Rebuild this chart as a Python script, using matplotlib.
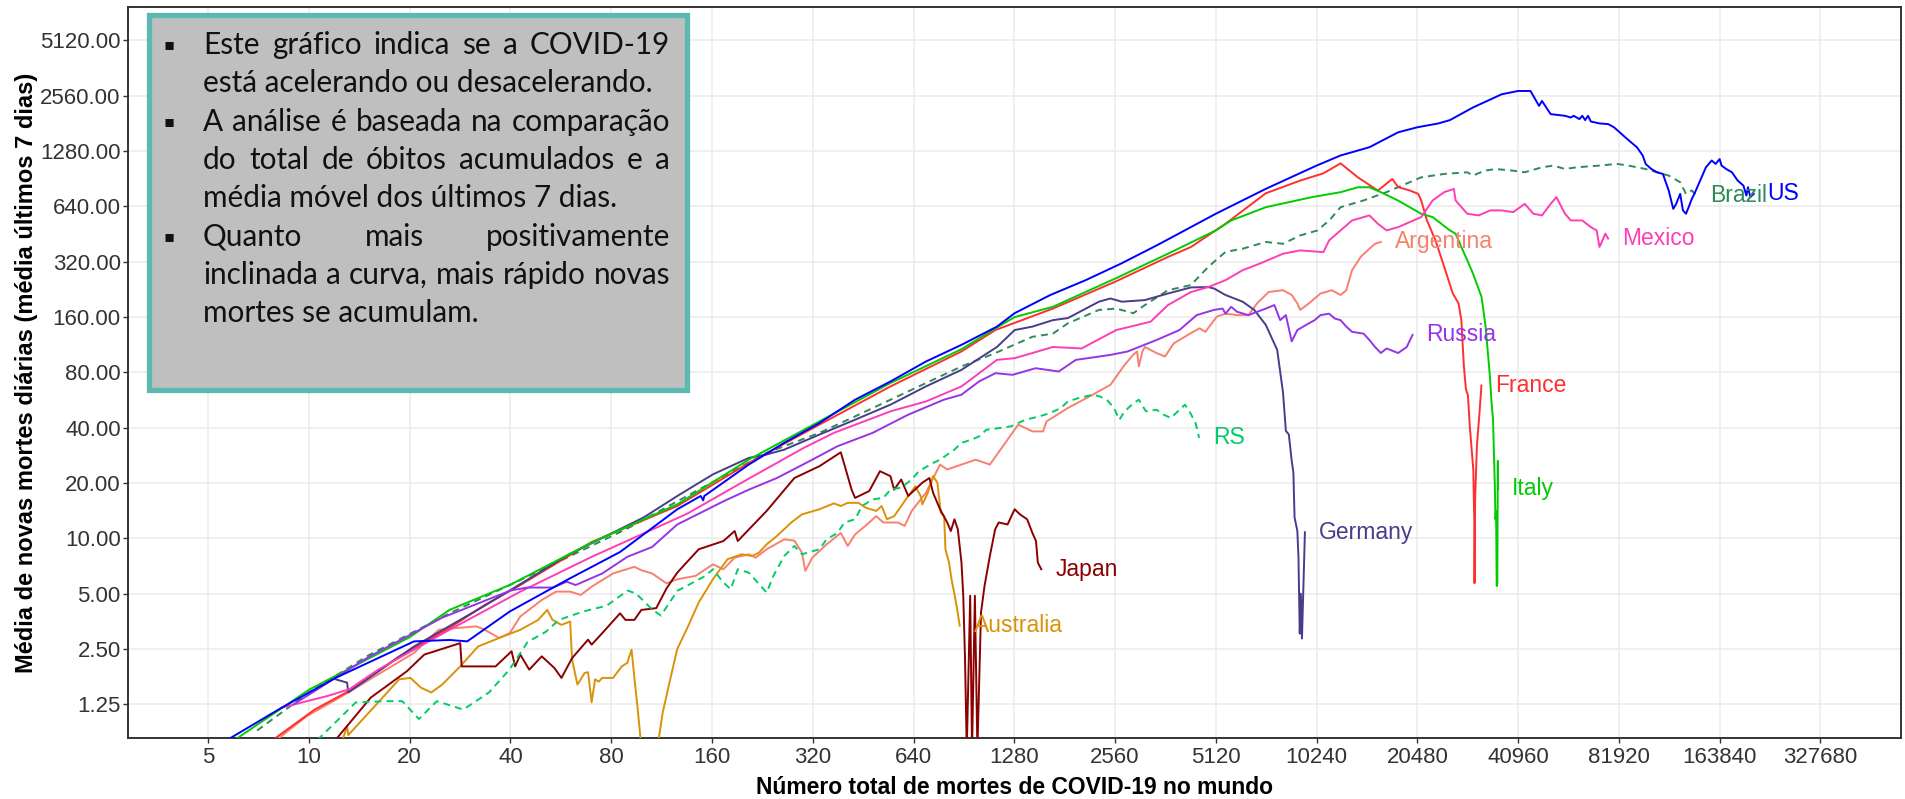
import matplotlib

matplotlib.use("Agg")
import matplotlib.pyplot as plt
from matplotlib.patches import Rectangle
from matplotlib.ticker import NullLocator

W, H = 1905, 799

x_ticks = [5, 10, 20, 40, 80, 160, 320, 640, 1280, 2560, 5120, 10240,
           20480, 40960, 81920, 163840, 327680]
y_ticks = [1.25, 2.5, 5, 10, 20, 40, 80, 160, 320, 640, 1280, 2560, 5120]

# (total deaths, 7-day average of new deaths)
argentina = [
    (8.0, 0.80), (9.87, 1.08), (12.6, 1.39), (16.1, 1.82), (20.6, 2.38), (24.4, 3.18),
    (27.6, 3.25), (31.6, 3.32), (33.5, 3.18), (37.0, 2.87), (39.8, 3.05), (42.8, 3.76),
    (49.6, 4.62), (54.7, 5.13), (60.3, 5.13), (64.9, 4.92), (69.9, 5.46), (81, 6.44),
    (93.8, 7.0), (98.4, 6.71), (106, 6.44), (117, 5.69), (126, 5.99), (143, 6.25),
    (161, 7.22), (173, 6.79), (187, 7.85), (206, 8.19), (216, 7.85), (233, 8.72),
    (263, 9.88), (282, 9.72), (297, 8.36), (304, 6.65), (319, 7.85), (352, 9.28),
    (388, 10.7), (407, 9.09), (428, 10.5), (472, 12.2), (495, 13.2), (520, 12.2),
    (574, 12.2), (602, 11.7), (632, 14.1), (697, 17.7), (768, 25.2), (807, 23.7),
    (890, 25.2), (981, 26.8), (1082, 25.2), (1193, 32.4), (1315, 41.6), (1450, 38.2),
    (1560, 38.2), (1598, 43.3), (1851, 51.2), (2195, 60.5), (2480, 68.5), (2735, 88),
    (2904, 100), (2980, 104), (3015, 86.2), (3090, 104), (3143, 110), (3403, 102),
    (3610, 97.6), (3832, 115), (4315, 131), (4580, 139), (4765, 133), (5156, 161),
    (5472, 167), (5922, 164), (6408, 164), (6800, 190), (7360, 219), (8130, 224),
    (8630, 211), (8970, 190), (9150, 175), (9714, 190), (10520, 215), (11380, 224),
    (12075, 211), (12560, 224), (13070, 288), (13870, 340), (14728, 377), (15310, 401),
    (15930, 410),
]
australia = [
    (12.6, 0.80), (13.0, 0.95), (13.1, 0.85), (16.1, 1.28), (18.6, 1.71), (20.1, 1.74),
    (21.6, 1.54), (23.2, 1.45), (25.0, 1.60), (28.3, 2.01), (32.0, 2.58), (37.0, 2.87),
    (42.8, 3.18), (48.4, 3.60), (51.5, 4.08), (53.4, 3.60), (56.8, 3.38), (60.3, 3.53),
    (61.1, 2.19), (63.4, 1.60), (66.6, 1.85), (68.2, 1.87), (69.9, 1.28), (71.6, 1.71),
    (73.4, 1.66), (75.2, 1.74), (81, 1.74), (86, 2.01), (89.3, 2.10), (92.0, 2.48),
    (93.8, 1.74), (96.0, 1.17), (97.8, 0.82), (104, 0.50), (111, 0.82), (114, 1.13),
    (120, 1.71), (126, 2.50), (136, 3.35), (146, 4.48), (161, 5.99), (178, 7.70),
    (196, 8.19), (211, 8.02), (221, 8.36), (233, 9.28), (250, 10.3), (276, 12.2),
    (297, 13.5), (335, 14.4), (370, 15.5), (388, 15.0), (407, 15.6), (438, 15.6),
    (460, 14.7), (495, 14.1), (514, 15.0), (533, 12.7), (560, 13.2), (617, 17.0),
    (648, 19.2), (672, 17.0), (680, 15.3), (706, 17.7), (732, 21.8), (754, 20.1),
    (772, 13.8), (790, 13.2), (797, 8.72), (817, 7.38), (831, 5.99), (848, 4.97),
    (864, 4.12), (879, 3.35),
]
brazil = [
    (7.0, 0.90), (10, 1.45), (15, 2.30), (26.3, 3.91), (42.8, 5.93), (89.3, 11.3),
    (150, 18.9), (233, 29.2), (335, 37.5), (428, 46.1), (546, 56.8), (697, 70),
    (890, 86.2), (1124, 102), (1450, 125), (1669, 130), (1851, 148), (2290, 175),
    (2580, 178), (2904, 168), (3143, 186), (3684, 224), (4315, 239), (4860, 300),
    (5472, 362), (6160, 377), (7222, 410), (8130, 401), (9150, 445), (10310, 474),
    (11200, 540), (12075, 634), (14150, 690), (16580, 766), (19430, 867), (21030, 922),
    (24640, 962), (28870, 982), (30030, 942), (32500, 1002), (35170, 1023), (39600, 1002),
    (42880, 982), (48270, 1045), (52250, 1068), (56540, 1023), (61230, 1045), (71700, 1068),
    (80720, 1091), (87450, 1068), (98500, 1023), (106500, 982), (115400, 942),
    (124900, 867), (130000, 749), (135300, 782), (139500, 734),
]
france = [
    (7.8, 0.80), (10.4, 1.17), (13.2, 1.48), (18.6, 2.28), (26.3, 3.25), (33.5, 4.34),
    (42.8, 5.57), (69.9, 9.55), (126, 15.0), (206, 25.7), (335, 41.6), (546, 67.1),
    (890, 104), (1124, 136), (1669, 178), (2560, 249), (3684, 340), (4315, 385),
    (5472, 515), (7222, 755), (9150, 885), (10730, 969), (12075, 1098), (13600, 922),
    (15610, 781), (17240, 903), (17943, 815), (19430, 782), (20610, 749), (21030, 690),
    (21880, 537), (23210, 418), (24640, 300), (26140, 215), (27190, 190), (27720, 154),
    (28200, 87), (28600, 65), (29000, 60), (29400, 40), (29800, 29.5), (30100, 23.5),
    (30200, 16.5), (30300, 12.7), (30350, 5.7), (30480, 16.5), (30860, 32.1),
    (31360, 46.7), (31830, 67.9),
]
germany = [
    (12.0, 1.71), (13.0, 1.64), (13.1, 1.45), (20.6, 2.58), (33.5, 4.30), (60, 8.2),
    (100, 13.0), (126, 17.0), (161, 22.3), (206, 27.4), (233, 28.6), (263, 30.4),
    (335, 36.7), (428, 44.2), (546, 53.4), (697, 67.1), (890, 82.6), (1136, 110),
    (1283, 136), (1450, 142), (1669, 154), (1851, 158), (2290, 194), (2480, 202),
    (2684, 194), (3143, 198), (3684, 215), (4315, 232), (4860, 233), (5055, 229),
    (5472, 211), (6160, 194), (6670, 175), (7222, 145), (7810, 106), (8130, 62),
    (8290, 38.4), (8460, 36.8), (8630, 26.4), (8730, 22.8), (8800, 13.0), (8970, 11.0),
    (9040, 7.9), (9120, 3.03), (9190, 5.0), (9260, 2.85), (9340, 5.0), (9450, 10.8),
]
italy = [
    (6.0, 0.80), (10, 1.50), (20, 2.90), (26.3, 4.08), (40, 5.6), (70, 9.5),
    (126, 15.3), (206, 26.8), (335, 43.3), (546, 70), (890, 107), (1124, 139),
    (1283, 160), (1669, 182), (2560, 259), (3684, 354), (5120, 474), (5693, 537),
    (7222, 634), (9910, 719), (12075, 765), (13600, 814), (14728, 814), (15930, 765),
    (17943, 689), (21030, 584), (22760, 560), (25620, 474), (26640, 455), (27720, 385),
    (28870, 326), (30030, 276), (31850, 206), (32750, 142), (33410, 93.6), (33800, 73),
    (34070, 56.8), (34470, 44.2), (34680, 29.5), (34900, 19.4), (35050, 12.7),
    (35200, 14.1), (35350, 5.5), (35500, 5.7), (35630, 26.4), (35700, 18.6),
]
japan = [
    (12.0, 0.80), (15.3, 1.36), (19.6, 1.89), (22.1, 2.33), (28.3, 2.69), (28.6, 2.01),
    (36.1, 2.01), (40.3, 2.43), (41.3, 2.01), (42.8, 2.33), (45.5, 1.93), (49.6, 2.28),
    (54.1, 1.97), (56.8, 1.74), (61.1, 2.23), (68.2, 2.81), (69.9, 2.64), (75.2, 3.05),
    (85, 3.91), (88.2, 3.60), (93.8, 3.60), (98.4, 4.08), (109, 4.17), (117, 5.34),
    (126, 6.51), (146, 8.72), (173, 9.67), (187, 10.96), (191, 9.67), (233, 14.1),
    (282, 21.3), (335, 24.7), (388, 29.4), (418, 18.4), (428, 16.6), (472, 18.1),
    (508, 23.2), (546, 21.8), (560, 18.4), (588, 20.9), (617, 17.0), (680, 20.1),
    (714, 21.3), (732, 17.7), (768, 14.4), (807, 12.2), (827, 10.96), (848, 12.7),
    (868, 11.2), (890, 7.38), (901, 4.87), (912, 2.2), (923, 0.7), (945, 4.87),
    (957, 0.7), (976, 4.87), (993, 0.7), (1018, 3.95), (1043, 5.51), (1082, 8.02),
    (1122, 11.2), (1150, 12.2), (1222, 11.9), (1283, 14.4), (1331, 13.5), (1398, 12.7),
    (1450, 10.7), (1486, 9.67), (1505, 7.38), (1541, 6.79),
]
mexico = [
    (8.3, 1.20), (11.4, 1.39), (13.2, 1.51), (16.1, 1.93), (26.3, 3.18), (42.8, 5.13),
    (69.9, 7.93), (134.7, 13.6), (200, 20.5), (300, 31), (370, 37.5), (546, 49.1),
    (697, 55.6), (890, 67.1), (1136, 93.6), (1283, 95.6), (1450, 102), (1669, 110),
    (2034, 108), (2580, 136), (3270, 151), (3684, 186), (4315, 219), (4860, 233),
    (5472, 254), (6160, 288), (6935, 313), (8130, 354), (9150, 369), (10730, 361),
    (11160, 418), (12075, 474), (13070, 537), (14728, 572), (15610, 515), (16580, 474),
    (17943, 494), (19430, 526), (21030, 560), (22760, 690), (24640, 766), (26330, 797),
    (26640, 690), (28870, 584), (31230, 572), (33800, 609), (36590, 609), (39600, 596),
    (42880, 661), (45500, 584), (48270, 572), (51230, 661), (53320, 719), (56540, 584),
    (58860, 537), (63690, 537), (67560, 494), (70300, 474), (71700, 385), (73180, 418),
    (74620, 455), (76100, 428),
]
rs = [
    (10.6, 0.80), (13.8, 1.28), (16.9, 1.30), (19, 1.30), (21.3, 1.04), (24.1, 1.30),
    (28.9, 1.17), (34.5, 1.45), (39.7, 1.93), (45, 2.73), (51, 3.10), (55.8, 3.60),
    (66, 4.0), (77.5, 4.3), (89.6, 5.2), (95, 5.0), (106, 4.1), (112.6, 3.8),
    (126, 5.18), (153, 6.25), (161, 6.79), (173, 5.75), (182, 5.29), (191, 6.79),
    (206, 6.51), (233, 5.07), (244, 6.25), (263, 8.02), (282, 9.09), (297, 8.19),
    (335, 8.72), (352, 9.88), (379, 10.7), (398, 12.2), (428, 12.7), (449, 15.0),
    (483, 16.3), (520, 16.6), (546, 18.4), (588, 18.9), (632, 20.9), (664, 23.2),
    (732, 25.7), (768, 26.8), (848, 30.4), (890, 33.1), (957, 34.5), (1005, 35.9),
    (1056, 39.0), (1164, 39.9), (1252, 40.7), (1381, 44.2), (1522, 46.1), (1638, 48.1),
    (1762, 51.2), (1851, 55.6), (1991, 58.0), (2090, 59.2), (2195, 60.5), (2305, 59.2),
    (2420, 56.8), (2541, 51.2), (2636, 44.2), (2735, 49.1), (2906, 54.5), (3015, 56.8),
    (3166, 49.1), (3406, 50.1), (3575, 47.1), (3755, 45.2), (3943, 49.1), (4141, 53.4),
    (4296, 48.1), (4454, 42.4), (4566, 35.2),
]
russia = [
    (9, 1.25), (15, 2.25), (25, 3.7), (40, 5.2), (44.9, 5.4), (53.6, 5.4),
    (58.9, 5.81), (62.6, 5.57), (75.2, 6.44), (89.3, 7.93), (106, 8.98), (126, 11.9),
    (173, 15.9), (206, 18.4), (250, 21.3), (319, 26.8), (379, 31.7), (483, 37.5),
    (617, 47.1), (788, 56.8), (890, 60.5), (1005, 71.5), (1124, 79.2), (1265, 77.6),
    (1482, 84.3), (1737, 80.9), (1955, 93.6), (2480, 99.6), (2792, 104), (3403, 120),
    (3987, 136), (4488, 164), (5055, 175), (5364, 178), (5472, 167), (5693, 182),
    (5922, 171), (6408, 164), (7222, 178), (7660, 186), (7970, 154), (8290, 164),
    (8630, 118), (8970, 136), (9525, 145), (10110, 154), (10520, 164), (11160, 167),
    (11610, 157), (12075, 154), (12560, 142), (13070, 133), (14150, 130), (14728, 120),
    (15310, 110), (15930, 102), (16580, 108), (17943, 102), (19040, 110), (19810, 128),
]
us = [
    (5.7, 0.80), (8.3, 1.20), (12.0, 1.74), (20.6, 2.75), (26.3, 2.80), (29.7, 2.75),
    (39.8, 4.0), (58.9, 5.93), (85, 8.43), (126, 14.4), (148, 17.0), (150.6, 16.1),
    (151.7, 17.0), (206, 25.2), (263, 33.1), (335, 42.4), (428, 56.8), (546, 71.4),
    (697, 91.7), (890, 113), (1136, 142), (1283, 168), (1640, 211), (2090, 254),
    (2670, 313), (3420, 394), (5120, 584), (7222, 798), (10240, 1068), (12075, 1212),
    (14728, 1344), (17943, 1620), (20480, 1726), (23670, 1811), (25620, 1888),
    (30030, 2212), (36590, 2610), (40960, 2720), (44600, 2720), (46400, 2400),
    (47300, 2257), (48270, 2400), (51230, 2035), (56540, 1993), (58860, 1950),
    (60040, 1993), (62450, 1912), (63690, 1993), (64960, 1888), (66250, 1993),
    (67560, 1855), (71700, 1811), (76100, 1796), (79200, 1726), (82400, 1620),
    (85700, 1519), (89170, 1427), (92770, 1344), (96500, 1212), (98500, 1091),
    (102400, 1023), (106500, 982), (110900, 962), (113100, 867), (115400, 782),
    (119100, 621), (121500, 661), (124900, 749), (127300, 609), (130000, 584),
    (132400, 634), (135300, 704), (137700, 749), (143300, 885), (149100, 1045),
    (155100, 1138), (159400, 1091), (163840, 1159), (166000, 1068), (171400, 1023),
    (178300, 982), (185500, 885), (193000, 831), (196900, 734), (199200, 815),
    (202300, 719), (207200, 749),
]

countries = ["Argentina", "Australia", "Brazil", "France", "Germany", "Italy",
             "Japan", "Mexico", "RS", "Russia", "US"]
series = {
    "Argentina": argentina, "Australia": australia, "Brazil": brazil,
    "France": france, "Germany": germany, "Italy": italy, "Japan": japan,
    "Mexico": mexico, "RS": rs, "Russia": russia, "US": us,
}
colors = {
    "Argentina": "#F8806E", "Australia": "#DA9208", "Brazil": "#2E8B57",
    "France": "#FF2F2F", "Germany": "#483D8B", "Italy": "#00CC00",
    "Japan": "#8B0000", "Mexico": "#FF3DB4", "RS": "#00CD66",
    "Russia": "#9535E6", "US": "#0000FF",
}
dashed = ["Brazil", "RS"]

# text of the note box: (line, starts with bullet, justified)
note_lines = [
    ("Este gráfico indica se a COVID-19", True, True),
    ("está acelerando ou desacelerando.", False, False),
    ("A análise é baseada na comparação", True, True),
    ("do total de óbitos acumulados e a", False, True),
    ("média móvel dos últimos 7 dias.", False, False),
    ("Quanto mais positivamente", True, True),
    ("inclinada a curva, mais rápido novas", False, True),
    ("mortes se acumulam.", False, False),
]

SANS = ["Liberation Sans", "DejaVu Sans"]
NOTE_FONT = ["Lato", "DejaVu Sans"]


def fx(px):
    return px / W


def fy(px):
    return 1 - px / H


def draw_note(fig):
    renderer = fig.canvas.get_renderer()
    box = Rectangle((fx(149), fy(390)), fx(687 - 149), (390 - 15) / H,
                    transform=fig.transFigure, facecolor="#BFBFBF",
                    edgecolor="#5BB9B2", lw=3.8, zorder=10)
    fig.add_artist(box)

    # size the font so the unjustified second line has its width in the picture
    probe = fig.text(0, 0, note_lines[1][0], fontsize=20, family=NOTE_FONT)
    size = 20 * 449 / probe.get_window_extent(renderer).width
    probe.remove()

    left, right = 203, 670
    for i, (line, bullet, justify) in enumerate(note_lines):
        base = 54 + 38.33 * i
        if bullet:
            fig.text(fx(169), fy(base - 9), "▪", fontsize=size * 0.55,
                     family=["DejaVu Sans"], ha="center", va="center",
                     color="#111111", zorder=11)
        if not justify:
            fig.text(fx(left), fy(base), line, fontsize=size, family=NOTE_FONT,
                     va="baseline", ha="left", color="#111111", zorder=11)
            continue
        words = line.split()
        texts = [fig.text(0, fy(base), w, fontsize=size, family=NOTE_FONT,
                          va="baseline", ha="left", color="#111111", zorder=11)
                 for w in words]
        widths = [t.get_window_extent(renderer).width for t in texts]
        gap = (right - left - sum(widths)) / (len(words) - 1)
        x = left
        for t, w in zip(texts, widths):
            t.set_x(fx(x))
            x += w + gap


def main():
    fig = plt.figure(figsize=(W / 100, H / 100), dpi=100)
    left, right, top, bottom = 127.6, 1901, 7.3, 737.5
    ax = fig.add_axes([fx(left), fy(bottom), (right - left) / W, (bottom - top) / H])
    ax.set_xscale("log", base=2)
    ax.set_yscale("log", base=2)

    for name in countries:
        xs, ys = zip(*series[name])
        style = dict(color=colors[name], lw=1.4, zorder=3)
        if name in dashed:
            style["dashes"] = (3.6, 2.6)
        ax.plot(xs, ys, **style)
        ax.text(xs[-1] * 1.1, ys[-1], name, color=colors[name], fontsize=16.5,
                family=SANS, ha="left", va="center", zorder=4)

    ax.set_xlim(5 * 2 ** -0.8, 327680 * 2 ** 0.8)
    ax.set_ylim(1.25 * 2 ** -0.6, 5120 * 2 ** 0.6)
    ax.set_xticks(x_ticks, [str(v) for v in x_ticks])
    ax.set_yticks(y_ticks, [f"{v:.2f}" for v in y_ticks])
    ax.xaxis.set_minor_locator(NullLocator())
    ax.yaxis.set_minor_locator(NullLocator())
    ax.tick_params(axis="both", labelsize=16, colors="#333333", length=3.5, width=1)
    ax.tick_params(axis="y", pad=1.5)
    ax.tick_params(axis="x", pad=3)
    for lab in ax.get_xticklabels() + ax.get_yticklabels():
        lab.set_family(SANS)

    ax.grid(True, color="#EBEBEB", lw=1.1)
    ax.set_axisbelow(True)
    for spine in ax.spines.values():
        spine.set_color("#333333")
        spine.set_linewidth(1.4)

    fig.text(fx((left + right) / 2), fy(787), "Número total de mortes de COVID-19 no mundo",
             fontsize=16.5, fontweight="bold", family=SANS, ha="center", va="center")
    fig.text(fx(27), fy((top + bottom) / 2),
             "Média de novas mortes diárias (média últimos 7 dias)",
             fontsize=17, fontweight="bold", family=SANS, rotation=90,
             ha="center", va="center")

    draw_note(fig)
    fig.savefig("out.png", dpi=100)


if __name__ == "__main__":
    main()
